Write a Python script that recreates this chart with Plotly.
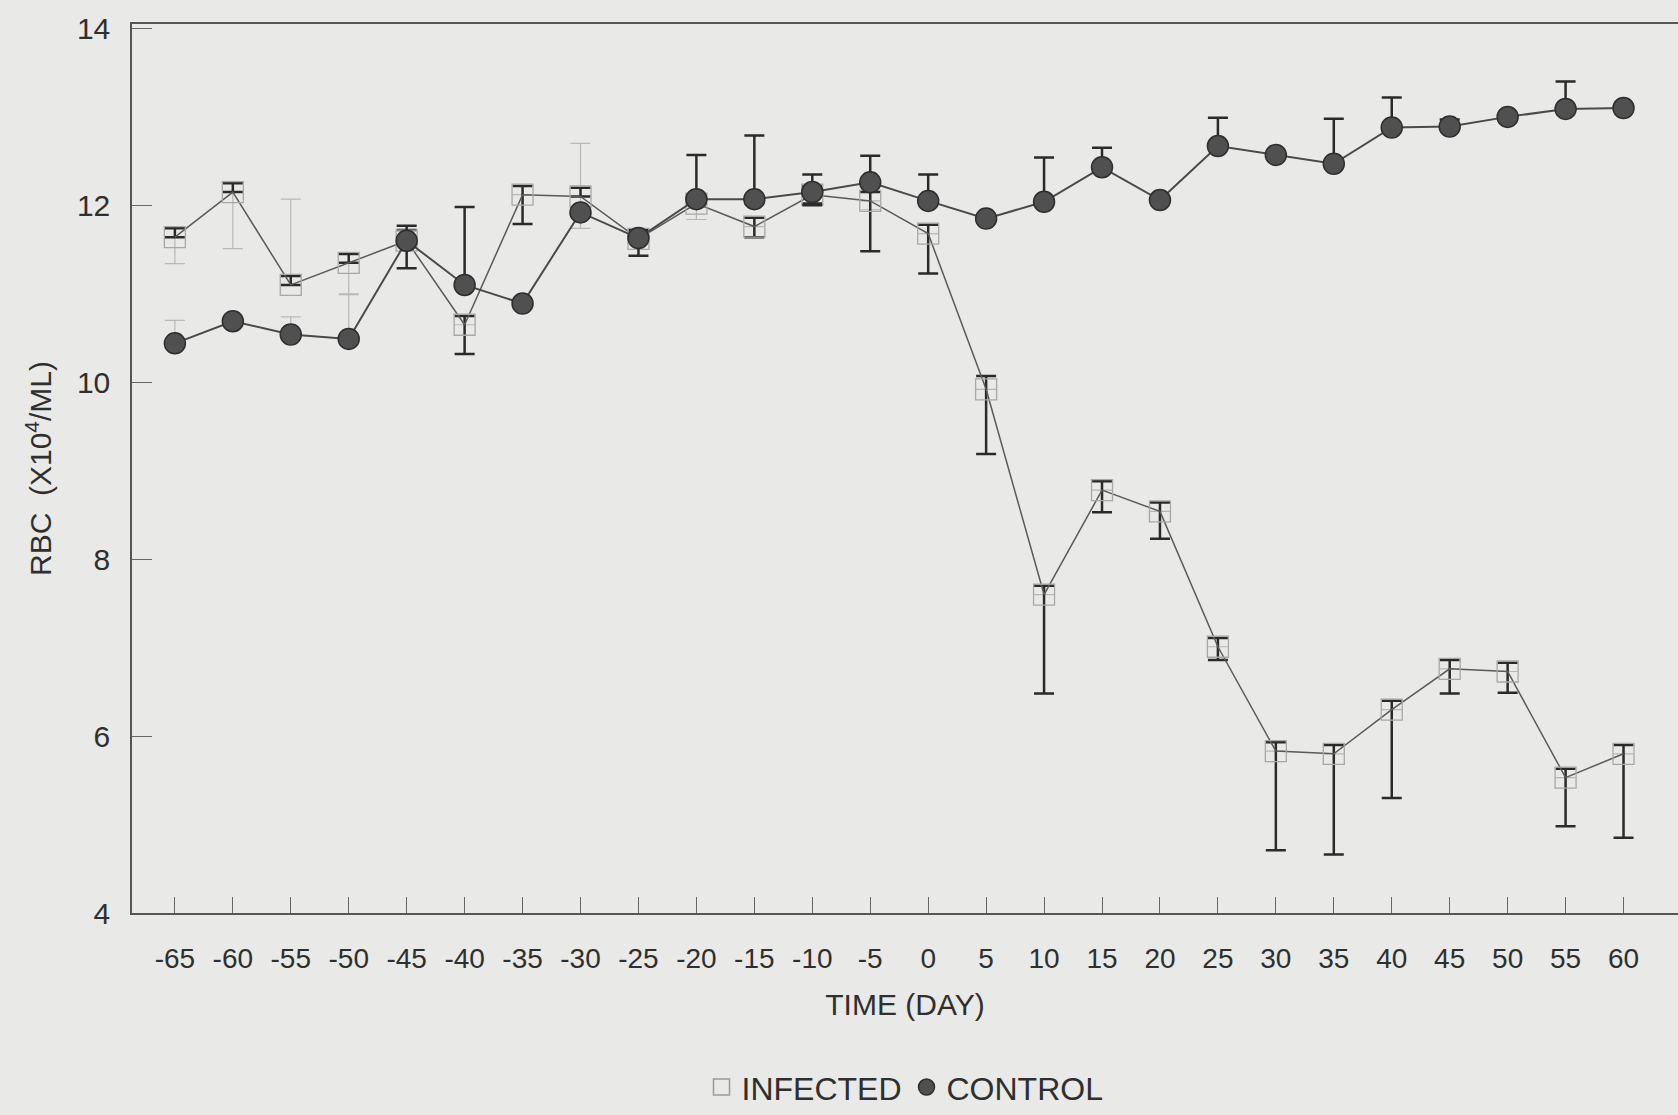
import plotly.graph_objects as go

days = [-65, -60, -55, -50, -45, -40, -35, -30, -25, -20, -15, -10, -5, 0,
        5, 10, 15, 20, 25, 30, 35, 40, 45, 50, 55, 60]
day_labels = [str(d) for d in days]

infected = [11.64, 12.15, 11.10, 11.35, 11.60, 10.65, 12.12, 12.10, 11.62, 12.02, 11.76, 12.12, 12.05, 11.68,
            9.92, 7.60, 8.78, 8.54, 7.01, 5.83, 5.80, 6.30, 6.76, 6.73, 5.53, 5.80]
infected_err_plus = [0.10, 0.10, 0.10, 0.10, 0.12, 0.10, 0.10, 0.10, 0.10, 0.10, 0.10, 0.10, 0.10, 0.10,
                     0.15, 0.10, 0.10, 0.10, 0.10, 0.10, 0.10, 0.10, 0.10, 0.10, 0.10, 0.10]
infected_err_minus = [0.0, 0.0, 0.0, 0.0, 0.0, 0.33, 0.33, 0.0, 0.0, 0.0, 0.12, 0.10, 0.57, 0.45,
                      0.73, 1.12, 0.25, 0.31, 0.15, 1.12, 1.14, 1.00, 0.28, 0.24, 0.55, 0.95]
# faint (grey) error caps seen on the left part
infected_faint_plus = [0.0, 0.0, 0.97, 0.10, 0.0, 0.0, 0.0, 0.60, 0.0, 0.0, 0.0, 0.0, 0.0, 0.0,
                       0.0, 0.0, 0.0, 0.0, 0.0, 0.0, 0.0, 0.0, 0.0, 0.0, 0.0, 0.0]
infected_faint_minus = [0.30, 0.64, 0.0, 0.35, 0.0, 0.0, 0.0, 0.36, 0.0, 0.18, 0.0, 0.0, 0.10, 0.0,
                        0.0, 0.0, 0.0, 0.0, 0.0, 0.0, 0.0, 0.0, 0.0, 0.0, 0.0, 0.0]

control = [10.44, 10.69, 10.54, 10.49, 11.60, 11.10, 10.89, 11.92, 11.63, 12.07, 12.07, 12.15, 12.26, 12.05,
           11.85, 12.04, 12.43, 12.06, 12.67, 12.57, 12.47, 12.88, 12.89, 13.00, 13.09, 13.10]
control_err_plus = [0.0, 0.0, 0.0, 0.0, 0.17, 0.88, 0.0, 0.0, 0.0, 0.50, 0.72, 0.20, 0.30, 0.30,
                    0.0, 0.50, 0.22, 0.0, 0.32, 0.0, 0.51, 0.34, 0.08, 0.0, 0.31, 0.0]
control_err_minus = [0.0, 0.0, 0.0, 0.0, 0.31, 0.0, 0.0, 0.0, 0.20, 0.0, 0.0, 0.15, 0.0, 0.0,
                     0.0, 0.0, 0.0, 0.0, 0.0, 0.0, 0.0, 0.0, 0.0, 0.0, 0.0, 0.0]
control_faint_plus = [0.26, 0.0, 0.20, 0.50, 0.0, 0.0, 0.0, 0.0, 0.0, 0.0, 0.0, 0.0, 0.0, 0.0,
                      0.0, 0.0, 0.0, 0.0, 0.0, 0.0, 0.0, 0.0, 0.0, 0.0, 0.0, 0.0]
control_faint_minus = [0.0] * 26

tick_vals_y = [4, 6, 8, 10, 12, 14]

FONT = "Liberation Sans, Arial, sans-serif"
BG = "#e9e9e7"
TXT = "#2f2f2f"

fig = go.Figure()

# faint error caps
fig.add_trace(go.Scatter(
    x=days, y=infected, mode="markers", showlegend=False, hoverinfo="skip",
    marker=dict(size=1, color="rgba(0,0,0,0)"),
    error_y=dict(type="data", symmetric=False, array=infected_faint_plus,
                 arrayminus=infected_faint_minus, color="#b8b8b8", thickness=1.2, width=10),
))
fig.add_trace(go.Scatter(
    x=days, y=control, mode="markers", showlegend=False, hoverinfo="skip",
    marker=dict(size=1, color="rgba(0,0,0,0)"),
    error_y=dict(type="data", symmetric=False, array=control_faint_plus,
                 arrayminus=control_faint_minus, color="#b8b8b8", thickness=1.2, width=10),
))

fig.add_trace(go.Scatter(
    x=days, y=infected, mode="lines+markers", name="INFECTED", showlegend=False,
    line=dict(color="#5a5a5a", width=1.5),
    marker=dict(symbol="square-open", size=21, color="#a8a8a8", line=dict(width=1.3, color="#a8a8a8")),
    error_y=dict(type="data", symmetric=False, array=infected_err_plus,
                 arrayminus=infected_err_minus, color="#2a2a2a", thickness=2.5, width=10),
))
fig.add_trace(go.Scatter(
    x=days, y=control, mode="lines+markers", name="CONTROL", showlegend=False,
    line=dict(color="#4a4a4a", width=2),
    marker=dict(symbol="circle", size=21, color="#505050", line=dict(width=1.5, color="#2e2e2e")),
    error_y=dict(type="data", symmetric=False, array=control_err_plus,
                 arrayminus=control_err_minus, color="#2a2a2a", thickness=2.5, width=10),
))

# legend entries (symbol only, as in the original)
fig.add_trace(go.Scatter(
    x=[None], y=[None], mode="markers", name="INFECTED",
    marker=dict(symbol="square-open", size=18, color="#9a9a9a", line=dict(width=1.5, color="#9a9a9a")),
))
fig.add_trace(go.Scatter(
    x=[None], y=[None], mode="markers", name="CONTROL",
    marker=dict(symbol="circle", size=18, color="#505050", line=dict(width=1.5, color="#2e2e2e")),
))

fig.update_layout(
    width=1678, height=1115,
    paper_bgcolor=BG, plot_bgcolor=BG,
    margin=dict(l=132, r=0, t=24, b=193),
    font=dict(family=FONT, size=28, color=TXT),
    showlegend=True,
    legend=dict(orientation="h", x=0.5, xanchor="center", y=-0.196, yanchor="middle",
                font=dict(family=FONT, size=32, color=TXT), bgcolor="rgba(0,0,0,0)",
                itemwidth=30),
    xaxis=dict(
        range=[-68.7, 64.7], tickmode="array", tickvals=days, ticktext=day_labels,
        ticks="inside", ticklen=16, tickcolor="#666666", tickwidth=1,
        showline=True, linecolor="#555555", linewidth=1.5, mirror=True,
        showgrid=False, zeroline=False,
        tickfont=dict(family=FONT, size=28, color=TXT),
        ticklabelstandoff=20,
        title=dict(text="TIME (DAY)", font=dict(family=FONT, size=30, color=TXT), standoff=21),
    ),
    yaxis=dict(
        range=[4, 14.05], tickmode="array", tickvals=tick_vals_y,
        ticks="inside", ticklen=20, tickcolor="#666666", tickwidth=1,
        showline=True, linecolor="#555555", linewidth=1.5, mirror=False,
        showgrid=False, zeroline=False,
        tickfont=dict(family=FONT, size=30, color=TXT),
        ticklabelstandoff=14,
        title=dict(text="RBC  (X10<sup>4</sup>/ML)", font=dict(family=FONT, size=30, color=TXT), standoff=16),
    ),
)

fig.write_html(
    "out.html",
    config={"displayModeBar": False},
    post_script="document.body.style.margin='0';document.body.style.background='%s';" % BG,
)
